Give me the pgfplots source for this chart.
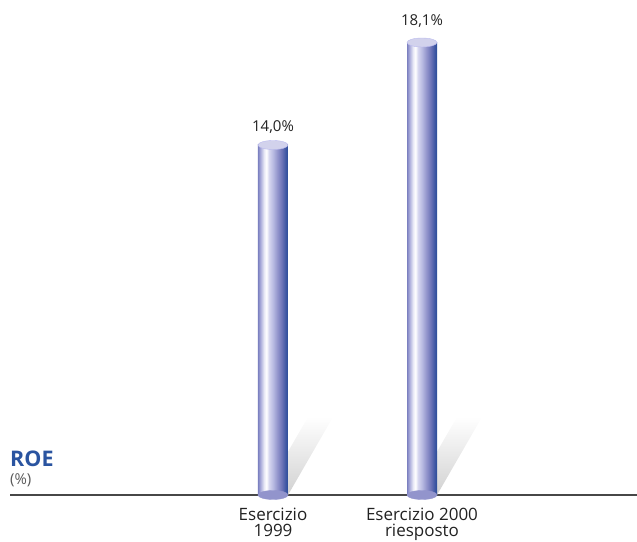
\documentclass[border=0pt]{standalone}
\usepackage{pgfplots}
\pgfplotsset{compat=1.18}
\usepackage{fontspec}
\setmainfont{Open Sans}
\definecolor{roeblue}{HTML}{2A54A0}
\definecolor{txt}{HTML}{222222}
\definecolor{capc}{HTML}{D2D2EC}
\definecolor{s0}{HTML}{7C80C0}
\definecolor{s1}{HTML}{A8AADA}
\definecolor{s2}{HTML}{E8E8F6}
\definecolor{s3}{HTML}{FFFFFF}
\definecolor{s4}{HTML}{D8D8F0}
\definecolor{s5}{HTML}{B8BAE2}
\definecolor{s6}{HTML}{9294CC}
\definecolor{s7}{HTML}{6A72B6}
\definecolor{s8}{HTML}{4058A4}
\definecolor{s9}{HTML}{2A4C98}
% TikZ maps a path's bounding box onto the central 25bp--75bp of the shading
\pgfdeclarehorizontalshading{cyl}{100bp}{
  color(0bp)=(s0);
  color(25bp)=(s0);
  color(29bp)=(s1);
  color(35bp)=(s2);
  color(39bp)=(s3);
  color(43bp)=(s4);
  color(50bp)=(s5);
  color(57.5bp)=(s6);
  color(65bp)=(s7);
  color(71bp)=(s8);
  color(75bp)=(s9);
  color(100bp)=(s9)}
\begin{document}
\begin{tikzpicture}
\begin{axis}[
  scale only axis, width=637pt, height=541pt,
  xmin=-1.8322, xmax=2.4430, ymin=-1.84, ymax=19.8,
  axis lines=none, clip=false,
]
% baseline
\addplot[draw=black!72, line width=1.3pt] coordinates {(-1.765,0) (2.443,0)};
% shadows
\addplot[draw=none, top color=white, bottom color=black!18] coordinates {(-0.067,0) (0.1007,0) (0.4027,3.12) (0.2349,3.12)} -- cycle;
\addplot[draw=none, top color=white, bottom color=black!18] coordinates {(0.933,0) (1.1007,0) (1.4027,3.12) (1.2349,3.12)} -- cycle;
% bottom caps
\addplot[only marks, mark=*, mark size=15pt, mark options={draw=s6, fill=s6, yscale=0.3}] coordinates {(0,0) (1,0)};
% bars (one plot each so each has its own shading)
\addplot[ybar, bar width=30pt, draw=none, shade, shading=cyl] coordinates {(0,14.0)};
\addplot[ybar, bar width=30pt, draw=none, shade, shading=cyl] coordinates {(1,18.1)};
% top caps
\addplot[only marks, mark=*, mark size=15pt, mark options={draw=capc!88!blue, fill=capc, yscale=0.3}] coordinates {(0,14.0) (1,18.1)};
% value labels
\node[anchor=base, text=txt, font=\fontsize{15}{17}\selectfont] at (axis cs:0,14.52) {14,0\%};
\node[anchor=base, text=txt, font=\fontsize{15}{17}\selectfont] at (axis cs:1,18.76) {18,1\%};
% category labels (base anchor = last line)
\node[anchor=base, align=center, text=txt, font=\fontsize{17}{16}\selectfont] at (axis cs:0,-1.66) {Esercizio\\1999};
\node[anchor=base, align=center, text=txt, font=\fontsize{17}{16}\selectfont] at (axis cs:1,-1.66) {Esercizio 2000\\riesposto};
% ROE
\node[anchor=base west, inner sep=0pt, text=roeblue, font=\fontsize{21.5}{23}\selectfont\bfseries] at (axis cs:-1.765,1.16) {ROE};
\node[anchor=base west, inner sep=0pt, text=black!65, font=\fontsize{15}{17}\selectfont] at (axis cs:-1.765,0.44) {(\%)};
\end{axis}
\pgfresetboundingbox
\path (current axis.south west) rectangle (current axis.north east);
\end{tikzpicture}
\end{document}
